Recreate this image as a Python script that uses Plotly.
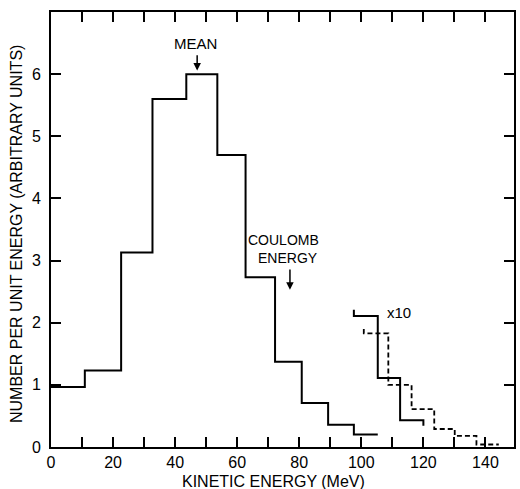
import plotly.graph_objects as go

# ---- data ----
main_edges = [0, 10.9, 22.6, 32.7, 43.6, 53.6, 62.7, 72.2, 80.8, 89.3, 97.6, 105.3]
main_vals = [0.965, 1.23, 3.13, 5.60, 6.00, 4.70, 2.73, 1.37, 0.71, 0.36, 0.20]

x10_solid_edges = [97.6, 105.3, 112.5, 120.0]
x10_solid_vals = [2.11, 1.11, 0.43]
x10_solid_cap = 2.21
x10_solid_end = 0.34

x10_dash_edges = [100.8, 108.7, 116.2, 123.5, 130.1, 137.1, 144.3]
x10_dash_vals = [1.83, 1.00, 0.61, 0.29, 0.18, 0.04]
x10_dash_cap = 1.90

x_tick_vals = list(range(0, 150, 10))
x_tick_text = ["0", " ", "20", " ", "40", " ", "60", " ", "80", " ", "100", " ", "120", " ", "140"]
y_tick_vals = [0, 1, 2, 3, 4, 5, 6]
y_tick_text = ["0", "1", "2", "3", "4", "5", "6"]

mean_energy = 47.1
coulomb_energy = 77.0

FONT = "Liberation Sans, Arial, sans-serif"


def step_xy(edges, vals, start_cap=None, end_val=None):
    xs = list(edges)
    ys = list(vals) + [vals[-1]]
    if start_cap is not None:
        xs = [edges[0]] + xs
        ys = [start_cap] + ys
    if end_val is not None:
        xs = xs + [edges[-1]]
        ys = ys + [end_val]
    return xs, ys


fig = go.Figure()

mx, my = step_xy(main_edges, main_vals)
fig.add_trace(go.Scatter(x=mx, y=my, mode="lines", line=dict(shape="hv", color="black", width=2),
                         showlegend=False, hoverinfo="skip"))

sx, sy = step_xy(x10_solid_edges, x10_solid_vals, x10_solid_cap, x10_solid_end)
fig.add_trace(go.Scatter(x=sx, y=sy, mode="lines", line=dict(shape="hv", color="black", width=2),
                         showlegend=False, hoverinfo="skip"))

dx, dy = step_xy(x10_dash_edges, x10_dash_vals, x10_dash_cap)
fig.add_trace(go.Scatter(x=dx, y=dy, mode="lines",
                         line=dict(shape="hv", color="black", width=1.8, dash="5px,3px"),
                         showlegend=False, hoverinfo="skip"))

# annotations
fig.add_annotation(x=mean_energy - 0.4, y=6.49, text="MEAN", showarrow=False,
                   font=dict(family=FONT, size=15, color="black"), xref="x", yref="y")
fig.add_annotation(x=mean_energy, y=6.06, ax=mean_energy, ay=6.33, axref="x", ayref="y",
                   xref="x", yref="y", text="", showarrow=True, arrowhead=2, arrowsize=1,
                   arrowwidth=1.5, arrowcolor="black")

fig.add_annotation(x=75.0, y=3.33, text="COULOMB", showarrow=False,
                   font=dict(family=FONT, size=14, color="black"), xref="x", yref="y")
fig.add_annotation(x=76.5, y=3.04, text="ENERGY", showarrow=False,
                   font=dict(family=FONT, size=14, color="black"), xref="x", yref="y")
fig.add_annotation(x=coulomb_energy, y=2.53, ax=coulomb_energy, ay=2.88, axref="x", ayref="y",
                   xref="x", yref="y", text="", showarrow=True, arrowhead=2, arrowsize=1,
                   arrowwidth=1.5, arrowcolor="black")

fig.add_annotation(x=112.0, y=2.16, text="x10", showarrow=False,
                   font=dict(family=FONT, size=15, color="black"), xref="x", yref="y")

# axis titles
fig.add_annotation(x=-0.073, y=0.49, xref="paper", yref="paper", textangle=-90,
                   text="NUMBER PER UNIT ENERGY (ARBITRARY UNITS)", showarrow=False,
                   font=dict(family=FONT, size=16, color="black"), xanchor="center", yanchor="middle")
fig.add_annotation(x=0.48, y=-0.080, xref="paper", yref="paper",
                   text="KINETIC ENERGY (MeV)", showarrow=False,
                   font=dict(family=FONT, size=16, color="black"), xanchor="center", yanchor="middle")

fig.update_xaxes(range=[0, 149.2], tickmode="array", tickvals=x_tick_vals, ticktext=x_tick_text,
                 ticks="inside", ticklen=10, tickwidth=1.5, tickcolor="black",
                 showline=True, linecolor="black", linewidth=2, mirror="allticks",
                 showgrid=False, zeroline=False, ticklabelstandoff=0,
                 tickfont=dict(family=FONT, size=16, color="black"))
fig.update_yaxes(range=[0, 7], tickmode="array", tickvals=y_tick_vals, ticktext=y_tick_text,
                 ticks="inside", ticklen=10, tickwidth=1.5, tickcolor="black",
                 showline=True, linecolor="black", linewidth=2, mirror="allticks",
                 showgrid=False, zeroline=False, ticklabelstandoff=5,
                 tickfont=dict(family=FONT, size=16, color="black"))

fig.update_layout(width=520, height=489, margin=dict(l=51, r=3.5, t=12, b=41.7),
                  paper_bgcolor="white", plot_bgcolor="white", showlegend=False)

fig.write_html("out.html", config={"displayModeBar": False},
               post_script="document.body.style.margin='0';document.body.style.padding='0';")
